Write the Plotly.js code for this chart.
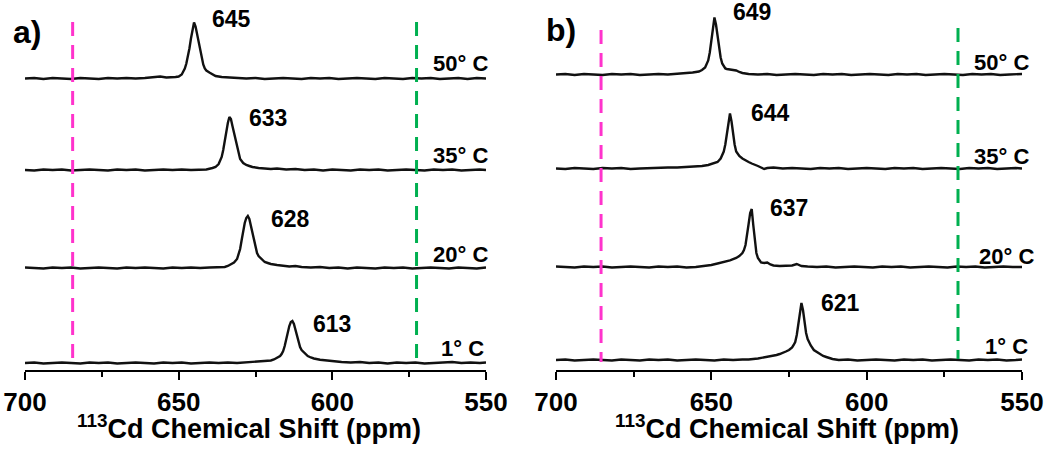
<!DOCTYPE html>
<html>
<head>
<meta charset="utf-8">
<script src="https://cdn.plot.ly/plotly-3.0.1.min.js"></script>
<style>
  body { margin: 0; background: #fff; }
  #plot { width: 1050px; height: 449px; }
</style>
</head>
<body>
<div id="plot"></div>
<script>
// 113Cd NMR spectra, [ppm, intensity]
var a50 = [[700,0],[697,0.5],[694,-0.5],[691,0.5],[688,0],[685,-0.5],[682,0.5],[679,0],[676,-0.5],[673,0.5],[670,0],[667,0.5],[664,0],[661,0.5],[658,1],[656,2],[654,1],[652,1],[651,1.5],[650,2],[649,4],[648.5,7],[648,10],[647.5,15],[647,22],[646.5,30],[646,40],[645.5,50],[645,56],[644.5,52],[644,44],[643.5,36],[643,28],[642.5,20],[642,14],[641.5,10],[641,8],[640,6],[639,4],[638,2.5],[636,1.5],[634,1],[631,0.5],[628,0],[625,0.5],[622,-0.5],[619,0],[616,0.5],[613,0],[610,-0.5],[607,0.5],[604,0],[601,0.5],[598,-0.5],[595,0],[592,0.5],[589,0],[586,-0.5],[583,0.5],[580,0],[577,-0.5],[574,0.5],[571,0],[568,0.5],[565,-0.5],[562,0],[559,0.5],[556,-0.5],[553,0.5],[550,0]];
var a35 = [[700,0],[697,-0.5],[694,0.5],[691,0],[688,0.5],[685,-0.5],[682,0],[679,0.5],[676,0],[673,-0.5],[670,0.5],[667,0],[664,0.5],[661,-0.5],[658,0],[655,0.5],[652,0],[649,0.5],[646,0],[643,0.5],[641,0.5],[639,2],[638,3],[637,6],[636.5,9],[636,13],[635.5,20],[635,30],[634.5,38],[634,47],[633.5,53],[633,51],[632.5,44],[632,37],[631.5,30],[631,22],[630.5,15],[630,11],[629,7],[628,5],[627,4],[626,3],[624,2],[622,1.5],[620,1],[618,1.5],[615,0.5],[612,1],[609,0],[606,0.5],[603,-0.5],[600,0.5],[597,0],[594,-0.5],[591,0.5],[588,0],[585,0.5],[582,-0.5],[579,0],[576,0.5],[573,0],[570,-0.5],[567,0.5],[564,0],[561,0.5],[558,-0.5],[555,0],[552,0.5],[550,0]];
var a20 = [[700,0.5],[697,0],[694,-0.5],[691,0.5],[688,0],[685,0.5],[682,-0.5],[679,0],[676,0.5],[673,0],[670,-0.5],[667,0.5],[664,0],[661,0.5],[658,0],[655,-0.5],[652,0.5],[649,0],[646,0.5],[643,0],[640,0.5],[637,0.5],[635,1],[634,2],[633,3.5],[632,5.5],[631,9],[630.5,13],[630,19],[629.5,28],[629,37],[628.5,45],[628,50],[627.5,52],[627,49],[626.5,42],[626,33],[625.5,26],[625,20],[624.5,15],[624,12],[623,8.5],[622,6],[621,5],[620,4],[618,3],[616,2.5],[614,1.5],[612,2],[610,1],[607,0.5],[604,1],[601,0],[598,0.5],[595,-0.5],[592,0.5],[589,0],[586,-0.5],[583,0.5],[580,0],[577,0.5],[574,-0.5],[571,0],[568,0.5],[565,0],[562,-0.5],[559,0.5],[556,0],[553,-0.5],[550,0.5]];
var a1 = [[700,0],[697,0.5],[694,-0.5],[691,0],[688,0.5],[685,0],[682,-0.5],[679,0.5],[676,0],[673,0.5],[670,-0.5],[667,0],[664,0.5],[661,0],[658,-0.5],[655,0.5],[652,0],[649,0.5],[646,-0.5],[643,0],[640,0.5],[637,0],[634,0.5],[631,0],[628,0.5],[625,1],[622.5,1.5],[620,2.5],[619,3.5],[618,5],[617,7],[616.5,9],[616,12],[615.5,17],[615,24],[614.5,31],[614,37],[613.5,41],[613,42],[612.5,39],[612,33],[611.5,26],[611,20],[610.5,16],[610,13],[609,9.5],[608,7],[607,5.5],[606,4.5],[604,3.3],[602,2.5],[600,1.7],[597,1],[594,0.5],[591,1],[588,0],[585,0.5],[582,-0.5],[579,0.5],[576,0],[573,0.5],[570,-0.5],[567,0],[564,0.5],[561,1],[558,0],[555,0.5],[552,0],[550,0.5]];

var b50 = [[700,0],[697,0.5],[694,-0.5],[691,0.5],[688,0],[685,-0.5],[682,0.5],[679,0],[676,0.5],[673,-0.5],[670,0],[667,0.5],[664,0],[661,0.5],[658,1],[656,2],[654,3],[653,4.5],[652,7],[651.5,10],[651,14],[650.5,22],[650,34],[649.5,48],[649,57],[648.5,50],[648,38],[647.5,26],[647,17],[646.5,11],[646,8],[645.5,6],[645,5.5],[644,5],[643,4.5],[642,4],[641,2.5],[640,1.5],[638,0.5],[635,0],[632,0.5],[629,-0.5],[626,0],[623,0.5],[620,0],[617,-0.5],[614,0.5],[611,0],[608,0.5],[605,-0.5],[602,0],[599,0.5],[596,0],[593,-0.5],[590,0.5],[587,0],[584,0.5],[581,-0.5],[578,0],[575,0.5],[572,0],[569,-0.5],[566,0.5],[563,0],[560,0.5],[557,-0.5],[554,0],[550,0.5]];
var b35 = [[700,0],[697,-0.5],[694,0.5],[691,0],[688,-0.5],[685,0.5],[682,0],[679,0.5],[676,-0.5],[673,0],[670,0.5],[667,0.5],[664,1],[661,1],[658,1.5],[655,2],[653,2.5],[651,3.5],[649,5],[648,6.5],[647,10],[646.5,13],[646,17],[645.5,24],[645,34],[644.5,45],[644,55],[643.5,47],[643,35],[642.5,24],[642,17],[641.5,14],[641,12.5],[640,10],[639,8],[638,6.5],[637,5],[636,4],[635,2.5],[634,1],[633,-0.5],[632,0.5],[630,1],[627,0],[624,0.5],[621,0],[618,-0.5],[615,0.5],[612,0],[609,0.5],[606,-0.5],[603,0],[600,0.5],[597,0],[594,-0.5],[591,0.5],[588,0],[585,0.5],[582,-0.5],[579,0],[576,0.5],[573,0],[570,-0.5],[567,0.5],[564,0],[561,0.5],[558,-0.5],[555,0],[552,0.5],[550,0]];
var b20 = [[700,0.5],[697,0],[694,-0.5],[691,0.5],[688,0],[685,0.5],[682,-0.5],[679,0],[676,0.5],[673,0],[670,-0.5],[667,0.5],[664,0],[661,0.5],[658,-0.5],[655,0],[652,1],[650,2],[648,3.5],[646,5],[644,6.7],[642,9],[641,11],[640,14],[639.5,17],[639,22],[638.5,31],[638,43],[637.5,54],[637,58],[636.5,42],[636,26],[635.5,14],[635,9],[634.5,6],[634,4.5],[633,4],[632,4.5],[631,2.5],[630,1.5],[628,1],[626,1],[624,1.5],[622.5,3],[621,1],[619,0.5],[616,0],[613,0.5],[610,-0.5],[607,0],[604,0.5],[601,0],[598,-0.5],[595,0.5],[592,0],[589,0.5],[586,-0.5],[583,0],[580,0.5],[577,0],[574,-0.5],[571,0.5],[568,0],[565,0.5],[562,-0.5],[559,0],[556,0.5],[553,0],[550,0]];
var b1 = [[700,0],[697,0.5],[694,-0.5],[691,0],[688,0.5],[685,0],[682,-0.5],[679,0.5],[676,0],[673,-0.5],[670,0.5],[667,0],[664,0.5],[661,-0.5],[658,0],[655,0.5],[652,0],[649,-0.5],[646,0.5],[643,0],[640,0.5],[638,0.5],[635,1.5],[633,2.5],[631,3.5],[629,5],[628,6],[627,7],[626,8.5],[625,10],[624,12.5],[623.5,15],[623,18],[622.5,25],[622,35],[621.5,48],[621,57],[620.5,50],[620,37],[619.5,27],[619,21],[618.5,17],[618,14.5],[617,10],[616,8],[615,5.5],[614,4],[613,3],[611,1],[609,0],[606,0.5],[603,-0.5],[600,0],[597,0.5],[594,0],[591,-0.5],[588,0.5],[585,0],[582,0.5],[579,-0.5],[576,0],[573,0.5],[570,0],[567,-0.5],[564,0.5],[561,0],[558,0.5],[555,-0.5],[552,0],[550,0.5]];

var temps = ["50° C", "35° C", "20° C", "1° C"];
var peaksA = ["645", "633", "628", "613"];
var peaksB = ["649", "644", "637", "621"];
var axisTitle = "<sup>113</sup>Cd Chemical Shift (ppm)";
var refLinesA = [684.5, 572.6];   // ppm of the dashed markers, panel a
var refLinesB = [685.5, 570.6];   // panel b
var tickVals = [700, 650, 600, 550];
var minorVals = [675, 625, 575];

// vertical stacking of the traces (y units = px)
var offA = [291.5, 200, 102, 7];
var offB = [295.5, 201.5, 103, 10];

var MAGENTA = "#ff33cc", GREEN = "#00b050";

function trace(spec, off, xa, ya) {
  return {
    x: spec.map(function (p) { return p[0]; }),
    y: spec.map(function (p) { return p[1] + off; }),
    xaxis: xa, yaxis: ya,
    type: "scatter", mode: "lines",
    line: {color: "#111", width: 2.4},
    hoverinfo: "skip"
  };
}

var data = [];
[a50, a35, a20, a1].forEach(function (s, i) { data.push(trace(s, offA[i], "x", "y")); });
[b50, b35, b20, b1].forEach(function (s, i) { data.push(trace(s, offB[i], "x2", "y2")); });

// pixel -> paper helpers (plot area spans y 10..370)
function px(x) { return x / 1050; }
function py(y) { return (370 - y) / 360; }

var annotations = [];
function label(text, x, y, size) {
  annotations.push({
    text: text, xref: "paper", yref: "paper", x: px(x), y: py(y),
    xanchor: "center", yanchor: "middle", showarrow: false,
    font: {size: size, weight: 700, color: "#000"}
  });
}
var peakPosA = [[231, 19], [268, 118], [290, 219], [332, 324]];
var peakPosB = [[752, 12], [770, 113], [789, 208], [840, 303]];
var tempPosA = [[461, 63], [461, 155], [461, 254], [462, 348]];
var tempPosB = [[1001, 62], [1001, 156], [1006, 256], [1006, 346]];
peaksA.forEach(function (t, i) { label(t, peakPosA[i][0], peakPosA[i][1], 23); });
peaksB.forEach(function (t, i) { label(t, peakPosB[i][0], peakPosB[i][1], 23); });
temps.forEach(function (t, i) { label(t, tempPosA[i][0], tempPosA[i][1], 22); });
temps.forEach(function (t, i) { label(t, tempPosB[i][0], tempPosB[i][1], 22); });
label("a)", 27, 32, 32);
label("b)", 561, 30, 32);
// axis titles
label(axisTitle, 249, 427, 27);
label(axisTitle, 787, 427, 27);

function vline(x, xr, yr, top, bottom, color) {
  return {
    type: "line", xref: xr, yref: yr, x0: x, x1: x, y0: top, y1: bottom,
    line: {color: color, width: 3, dash: "14px,9px"}
  };
}
var shapes = [
  vline(refLinesA[0], "x", "y", 348, 8, MAGENTA),
  vline(refLinesA[1], "x", "y", 348, 8, GREEN),
  vline(refLinesB[0], "x2", "y2", 340, 8, MAGENTA),
  vline(refLinesB[1], "x2", "y2", 342, 11, GREEN)
];

function xax(domain, anchor) {
  return {
    domain: domain, anchor: anchor, range: [700, 550],
    showgrid: false, zeroline: false,
    showline: true, linecolor: "#000", linewidth: 2,
    tickmode: "array", tickvals: tickVals,
    ticks: "outside", ticklen: 8, tickwidth: 2, tickcolor: "#000",
    minor: {tickmode: "array", tickvals: minorVals, ticks: "outside", ticklen: 5, tickwidth: 2, tickcolor: "#000"},
    tickfont: {size: 26, weight: 700, color: "#000"},
    automargin: false, fixedrange: true
  };
}
function yax(anchor) {
  return {domain: [0, 1], range: [0, 360], visible: false, anchor: anchor, fixedrange: true};
}

var layout = {
  width: 1050, height: 449,
  margin: {l: 0, r: 0, t: 10, b: 79},
  paper_bgcolor: "#fff", plot_bgcolor: "#fff",
  showlegend: false,
  font: {family: "Liberation Sans, Arial, sans-serif", color: "#000"},
  xaxis: xax([25 / 1050, 486 / 1050], "y"),
  yaxis: yax("x"),
  xaxis2: xax([556 / 1050, 1022 / 1050], "y2"),
  yaxis2: yax("x2"),
  shapes: shapes,
  annotations: annotations
};

Plotly.newPlot("plot", data, layout, {staticPlot: true, displayModeBar: false});
</script>
</body>
</html>
